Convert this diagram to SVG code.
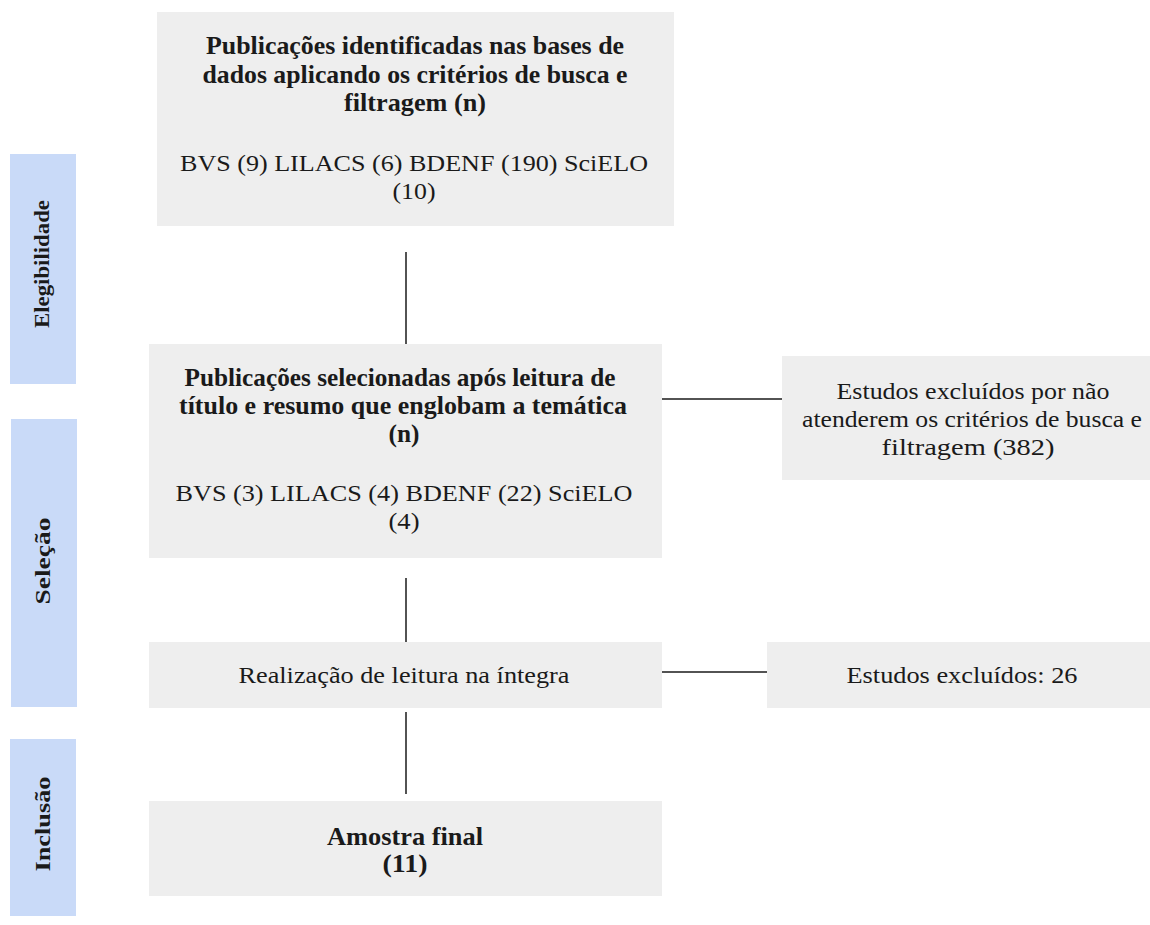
<svg xmlns="http://www.w3.org/2000/svg" width="1150" height="925" viewBox="0 0 1150 925">
<style>
.box{fill:#eeeeee}
.side{fill:#c9daf8}
.t{font-family:"Liberation Serif","Times New Roman",serif;font-size:23.5px;fill:#1a1a1a;text-anchor:middle}
.b{font-weight:bold;font-size:24.5px}
.s{font-family:"Liberation Serif","Times New Roman",serif;font-size:22px;font-weight:bold;fill:#1a1a1a;text-anchor:middle}
.ln{stroke:#1a1a1a;stroke-width:1.5;fill:none}
</style>
<rect width="1150" height="925" fill="#ffffff"/>
<g id="side-elegibilidade">
<rect class="side" x="10" y="154" width="66" height="230"/>
<text class="s" transform="translate(49,264) rotate(-90)" textLength="128" lengthAdjust="spacingAndGlyphs">Elegibilidade</text>
</g>
<g id="side-selecao">
<rect class="side" x="11" y="419" width="66" height="288"/>
<text class="s" transform="translate(50,561) rotate(-90)" textLength="87" lengthAdjust="spacingAndGlyphs">Seleção</text>
</g>
<g id="side-inclusao">
<rect class="side" x="10" y="739" width="66" height="177"/>
<text class="s" transform="translate(50,824) rotate(-90)" textLength="95" lengthAdjust="spacingAndGlyphs">Inclusão</text>
</g>
<g id="connectors">
<line class="ln" x1="406" y1="252" x2="406" y2="344"/>
<line class="ln" x1="406" y1="578" x2="406" y2="643"/>
<line class="ln" x1="406" y1="712" x2="406" y2="794"/>
<line class="ln" x1="662" y1="399" x2="782" y2="399"/>
<line class="ln" x1="662" y1="672" x2="767" y2="672"/>
</g>
<g id="node-identificadas">
<rect class="box" x="157" y="12" width="517" height="214"/>
<text class="t b" x="415" y="54" textLength="418" lengthAdjust="spacingAndGlyphs">Publicações identificadas nas bases de</text>
<text class="t b" x="415" y="83" textLength="425" lengthAdjust="spacingAndGlyphs">dados aplicando os critérios de busca e</text>
<text class="t b" x="415" y="111" textLength="142" lengthAdjust="spacingAndGlyphs">filtragem (n)</text>
<text class="t" x="414" y="171" textLength="468" lengthAdjust="spacingAndGlyphs">BVS (9) LILACS (6) BDENF (190)  SciELO</text>
<text class="t" x="414" y="199" textLength="43" lengthAdjust="spacingAndGlyphs">(10)</text>
</g>
<g id="node-selecionadas">
<rect class="box" x="149" y="344" width="513" height="214"/>
<text class="t b" x="400" y="386" textLength="431" lengthAdjust="spacingAndGlyphs">Publicações selecionadas após leitura de</text>
<text class="t b" x="403" y="414" textLength="448" lengthAdjust="spacingAndGlyphs">título e resumo que englobam a temática</text>
<text class="t b" x="404" y="442" textLength="31" lengthAdjust="spacingAndGlyphs">(n)</text>
<text class="t" x="404" y="501" textLength="457" lengthAdjust="spacingAndGlyphs">BVS (3) LILACS (4) BDENF (22)  SciELO</text>
<text class="t" x="404" y="529" textLength="31" lengthAdjust="spacingAndGlyphs">(4)</text>
</g>
<g id="node-excluidos-382">
<rect class="box" x="782" y="356" width="370" height="124"/>
<text class="t" x="973" y="399" textLength="273" lengthAdjust="spacingAndGlyphs">Estudos excluídos por não</text>
<text class="t" x="972" y="427" textLength="340" lengthAdjust="spacingAndGlyphs">atenderem os critérios de busca e</text>
<text class="t" x="968" y="455" textLength="173" lengthAdjust="spacingAndGlyphs">filtragem (382)</text>
</g>
<g id="node-integra">
<rect class="box" x="149" y="642" width="513" height="66"/>
<text class="t" x="404" y="683" textLength="331" lengthAdjust="spacingAndGlyphs">Realização de leitura na íntegra</text>
</g>
<g id="node-excluidos-26">
<rect class="box" x="767" y="642" width="385" height="66"/>
<text class="t" x="962" y="683" textLength="231" lengthAdjust="spacingAndGlyphs">Estudos excluídos: 26</text>
</g>
<g id="node-amostra">
<rect class="box" x="149" y="801" width="513" height="95"/>
<text class="t b" x="405" y="845" textLength="156" lengthAdjust="spacingAndGlyphs">Amostra final</text>
<text class="t b" x="405" y="872" textLength="45" lengthAdjust="spacingAndGlyphs">(11)</text>
</g>
</svg>
